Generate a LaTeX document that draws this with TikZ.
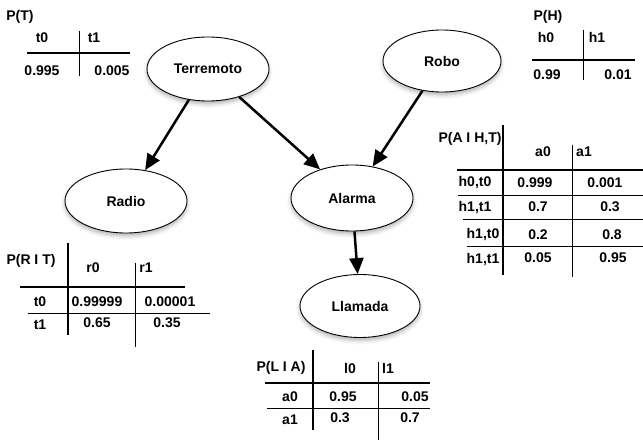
\documentclass[tikz,border=0pt]{standalone}
\usepackage{fontspec}
\setmainfont{Liberation Sans}
\usetikzlibrary{shapes.geometric,arrows.meta,shadows.blur}

\tikzset{
  txt/.style={font=\fontsize{14}{16}\selectfont\bfseries, inner sep=0pt},
  estado/.style={txt, ellipse, draw, line width=0.9pt, fill=white,
    minimum width=122pt, minimum height=64pt,
    blur shadow={shadow xshift=0pt, shadow yshift=-3pt, shadow blur radius=4pt, shadow opacity=30}},
  flecha/.style={-{Triangle[length=16pt,width=14pt]}, line width=2.5pt},
  grueso/.style={line width=2.8pt},
  fino/.style={line width=0.9pt}
}

\begin{document}
\begin{tikzpicture}[x=1pt,y=-1pt]
    \useasboundingbox (0,0) rectangle (643,441);
    % red bayesiana
    \node[estado] (terremoto) at (208,69) {Terremoto};
    \node[estado, minimum width=118pt, minimum height=62pt] (robo) at (442,61) {Robo};
    \node[estado] (radio) at (126,201) {Radio};
    \node[estado, minimum height=66pt] (alarma) at (352,198) {Alarma};
    \node[estado, minimum width=120pt, minimum height=63pt] (llamada) at (360,306) {Llamada};
    \draw[flecha] (terremoto) -- (radio);
    \draw[flecha] (terremoto) -- (alarma);
    \draw[flecha] (robo) -- (alarma);
    \draw[flecha] (alarma) -- (llamada);

    % P(T)
    \node[txt] (pT) at (20,17) {P(T)};
    \node[txt] (t0) at (42,38) {t0};
    \node[txt] (t1) at (94,38) {t1};
    \node[txt] (pt0) at (42,71) {0.995};
    \node[txt] (pt1) at (112,71) {0.005};
    \draw[grueso] (27,53) -- (130,53);
    \draw[fino] (79,31) -- (79,76);

    % P(H)
    \node[txt] (pH) at (548,17) {P(H)};
    \node[txt] (h0) at (546,37) {h0};
    \node[txt] (h1) at (597,37) {h1};
    \node[txt] (ph0) at (547,75) {0.99};
    \node[txt] (ph1) at (618,75) {0.01};
    \draw[grueso] (532,60) -- (635,60);
    \draw[fino] (583,30) -- (583,80);

    % P(A | H,T)
    \node[txt] (pA) at (470,139) {P(A I H,T)};
    \node[txt] (a0) at (543,152) {a0};
    \node[txt] (a1) at (584,152) {a1};
    \node[txt] (r1c1) at (475,183) {h0,t0};
    \node[txt] (r1c2) at (535,183) {0.999};
    \node[txt] (r1c3) at (605,183) {0.001};
    \node[txt] (r2c1) at (475,208) {h1,t1};
    \node[txt] (r2c2) at (538,207) {0.7};
    \node[txt] (r2c3) at (610,207) {0.3};
    \node[txt] (r3c1) at (483,235) {h1,t0};
    \node[txt] (r3c2) at (538,235) {0.2};
    \node[txt] (r3c3) at (612,235) {0.8};
    \node[txt] (r4c1) at (483,260) {h1,t1};
    \node[txt] (r4c2) at (538,258) {0.05};
    \node[txt] (r4c3) at (613,258) {0.95};
    \draw[grueso] (503,125) -- (503,275);
    \draw[grueso] (457,170) -- (643,170);
    \draw[fino] (572,145) -- (572,277);
    \draw[fino] (458,195) -- (643,195);
    \draw[fino] (463,219) -- (643,219);
    \draw[fino] (467,246) -- (643,246);

    % P(R | T)
    \node[txt] (pR) at (31,261) {P(R I T)};
    \node[txt] (r0) at (93,268) {r0};
    \node[txt] (r1) at (146,268) {r1};
    \node[txt] (rt0) at (40,302) {t0};
    \node[txt] (pr00) at (97,302) {0.99999};
    \node[txt] (pr01) at (170,302) {0.00001};
    \node[txt] (rt1) at (40,325) {t1};
    \node[txt] (pr10) at (97,323) {0.65};
    \node[txt] (pr11) at (167,323) {0.35};
    \draw[grueso] (68,243) -- (68,335);
    \draw[grueso] (20,287) -- (185,287);
    \draw[fino] (135,263) -- (135,347);
    \draw[fino] (28,313) -- (210,313);

    % P(L | A)
    \node[txt] (pL) at (281,368) {P(L I A)};
    \node[txt] (l0) at (350,368) {l0};
    \node[txt] (l1) at (388,368) {l1};
    \node[txt] (la0) at (290,397) {a0};
    \node[txt] (pl00) at (343,397) {0.95};
    \node[txt] (pl01) at (415,397) {0.05};
    \node[txt] (la1) at (290,420) {a1};
    \node[txt] (pl10) at (340,418) {0.3};
    \node[txt] (pl11) at (410,418) {0.7};
    \draw[grueso] (313,350) -- (313,430);
    \draw[grueso] (265,383) -- (430,383);
    \draw[fino] (378,362) -- (378,440);
    \draw[fino] (267,408) -- (430,408);
\end{tikzpicture}
\end{document}
